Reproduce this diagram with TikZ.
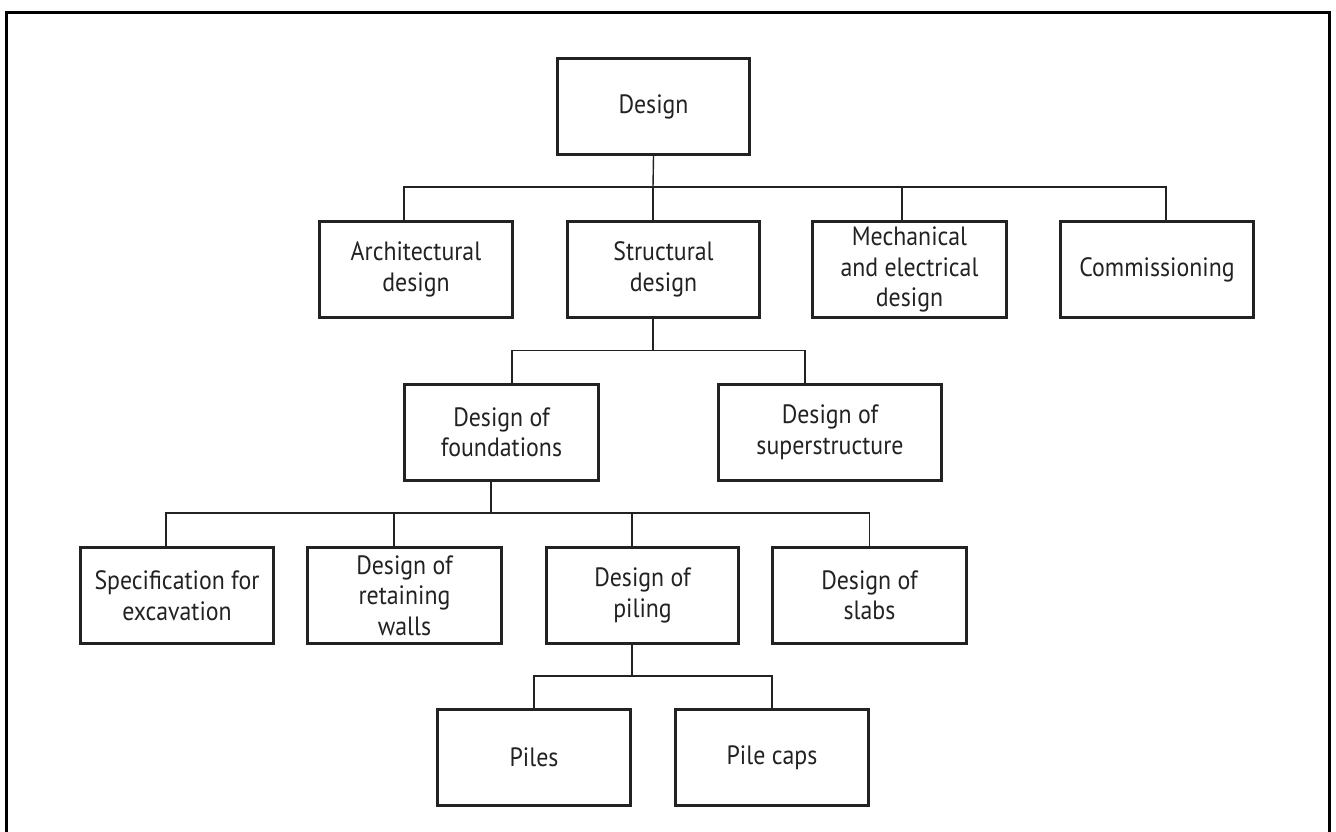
\documentclass[tikz,border=0pt]{standalone}
\usepackage{fontspec}
\setmainfont{PT Sans}[FakeStretch=0.9]
\usetikzlibrary{positioning}
\definecolor{ink}{HTML}{222222}
\tikzset{
  box/.style={draw=ink, line width=3pt, text=ink, inner sep=0pt,
    minimum height=96pt, align=center, font=\fontsize{26.5}{30.5}\selectfont},
  link/.style={draw=ink, line width=1.4pt},
  frame/.style={draw=black, line width=3pt, line join=miter}
}
\begin{document}
\begin{tikzpicture}[x=1pt, y=-1pt]
\useasboundingbox (0,0) rectangle (1336,831);
\draw[frame] (6.5,835) -- (6.5,12.5) -- (1329.5,12.5) -- (1329.5,835);

% level 1
\node[box, minimum width=192pt] (design) at (653.5,106.5) {Design};
% level 2
\node[box, minimum width=193pt] (arch)   at (416,269.5)   {Architectural\\design};
\node[box, minimum width=192pt] (struct) at (663.5,269.5) {Structural\\design};
\node[box, minimum width=194pt] (mech)   at (909.5,269.5) {Mechanical\\and electrical\\design};
\node[box, minimum width=193pt] (comm)   at (1157,269.5)  {Commissioning};
% level 3
\node[box, minimum width=194pt] (found)  at (501.5,432.5) {Design of\\foundations};
\node[box, minimum width=223pt] (super)  at (830,432.5)   {Design of\\superstructure};
% level 4
\node[box, minimum width=193pt] (spec)   at (177,595.5)   {Specification for\\excavation};
\node[box, minimum width=194pt] (retain) at (404.5,595.5) {Design of\\retaining\\walls};
\node[box, minimum width=192pt] (piling) at (642.5,595.5) {Design of\\piling};
\node[box, minimum width=194pt] (slabs)  at (869.5,595.5) {Design of\\slabs};
% level 5
\node[box, minimum width=193pt] (piles)  at (534,757.5)   {Piles};
\node[box, minimum width=193pt] (caps)   at (772,757.5)   {Pile caps};

% junctions on the distribution lines
\coordinate (j1) at (653,187);
\coordinate (j2) at (653,350.5);
\coordinate (j3) at (491,513);
\coordinate (j4) at (632,676);

% Design -> disciplines
\draw[link] (design.south) -- (j1);
\draw[link] ([xshift=-12pt]arch.north) |- (j1);
\draw[link] ([xshift=-10.5pt]struct.north) |- (j1);
\draw[link] ([xshift=-7.5pt]mech.north) |- (j1);
\draw[link] ([xshift=9pt]comm.north) |- (j1);
% Structural design -> foundations / superstructure
\draw[link] ([xshift=-10.5pt]struct.south) -- (j2);
\draw[link] ([xshift=10.5pt]found.north) |- (j2);
\draw[link] ([xshift=-25pt]super.north) |- (j2);
% Foundations -> sub-tasks
\draw[link] ([xshift=-10.5pt]found.south) -- (j3);
\draw[link] ([xshift=-11pt]spec.north) |- (j3);
\draw[link] ([xshift=-10.5pt]retain.north) |- (j3);
\draw[link] ([xshift=-10.5pt]piling.north) |- (j3);
\draw[link] (slabs.north) |- (j3);
% Piling -> piles / pile caps
\draw[link] ([xshift=-10.5pt]piling.south) -- (j4);
\draw[link] (piles.north) |- (j4);
\draw[link] (caps.north) |- (j4);
\end{tikzpicture}
\end{document}
